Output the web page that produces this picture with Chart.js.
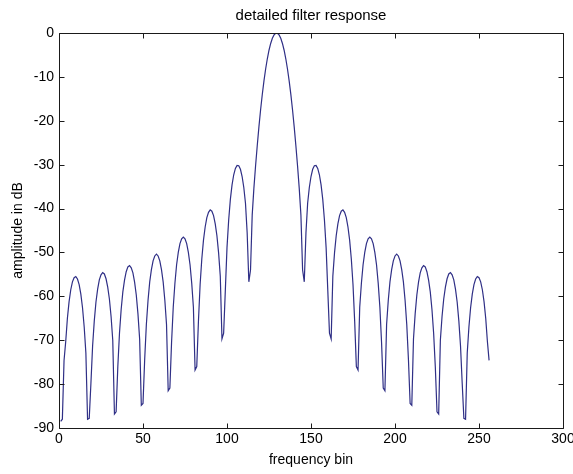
<!DOCTYPE html>
<html><head><meta charset="utf-8">
<script src="https://cdn.jsdelivr.net/npm/chart.js@4.4.1/dist/chart.umd.min.js"></script>
<style>html,body{margin:0;padding:0;background:#fff;}canvas{display:block;}</style>
</head><body>
<canvas id="c" width="573" height="474"></canvas>
<script>
const titleText = 'detailed filter response';
const xTitle = 'frequency bin';
const yTitle = 'amplitude in dB';
const firstBin = 1;
const xTicks = [0, 50, 100, 150, 200, 250, 300];
const yTicks = [0, -10, -20, -30, -40, -50, -60, -70, -80, -90];
// amplitude (dB), bins 1..256
const amplitudeDb = [
 -88.5,-88.0,-74.6,-70.3,-65.0,-61.2,-58.5,-56.7,-55.75,-55.5,
 -56.05,-57.35,-59.5,-62.6,-67.0,-72.9,-88.0,-87.8,-79.8,-71.3,
 -65.6,-61.3,-58.35,-56.25,-55.1,-54.6,-54.9,-56.0,-57.9,-60.6,
 -64.6,-70.0,-86.8,-86.3,-76.1,-68.4,-63.0,-59.0,-56.3,-54.4,
 -53.3,-53.0,-53.5,-54.65,-56.75,-59.7,-64.0,-69.7,-84.8,-84.4,
 -74.4,-66.4,-60.9,-56.7,-53.9,-51.9,-50.8,-50.4,-50.8,-51.9,
 -53.9,-56.7,-60.9,-66.4,-81.5,-80.9,-70.5,-62.5,-57.0,-52.8,
 -50.0,-48.0,-46.9,-46.5,-46.9,-48.0,-50.0,-52.8,-57.0,-62.5,
 -76.8,-76.0,-65.7,-57.3,-51.5,-47.2,-44.2,-42.05,-40.85,-40.3,
 -40.6,-41.6,-43.5,-46.2,-50.1,-55.4,-69.7,-68.4,-58.7,-48.9,
 -42.6,-37.9,-34.6,-32.3,-30.86,-30.17,-30.24,-31.05,-32.7,-35.2,
 -38.8,-45.5,-56.7,-54.0,-41.5,-35.4,-30.3,-25.7,-21.4,-17.5,
 -14.0,-10.9,-8.2,-5.87,-3.93,-2.38,-1.21,-0.44,-0.05,-0.05,
 -0.44,-1.21,-2.38,-3.93,-5.87,-8.2,-10.9,-14.0,-17.5,-21.4,
 -25.7,-30.3,-35.4,-41.5,-54.0,-56.7,-45.5,-38.8,-35.2,-32.7,
 -31.05,-30.24,-30.17,-30.86,-32.3,-34.6,-37.9,-42.6,-48.9,-58.7,
 -68.4,-69.7,-55.4,-50.1,-46.2,-43.5,-41.6,-40.6,-40.3,-40.85,
 -42.05,-44.2,-47.2,-51.5,-57.3,-65.7,-76.0,-76.8,-62.5,-57.0,
 -52.8,-50.0,-48.0,-46.9,-46.5,-46.9,-48.0,-50.0,-52.8,-57.0,
 -62.5,-70.5,-80.9,-81.5,-66.4,-60.9,-56.7,-53.9,-51.9,-50.8,
 -50.4,-50.8,-51.9,-53.9,-56.7,-60.9,-66.4,-74.4,-84.4,-84.8,
 -69.7,-64.0,-59.7,-56.75,-54.65,-53.5,-53.0,-53.3,-54.4,-56.3,
 -59.0,-63.0,-68.4,-76.1,-86.3,-86.8,-70.0,-64.6,-60.6,-57.9,
 -56.0,-54.9,-54.6,-55.1,-56.25,-58.35,-61.3,-65.6,-71.3,-79.8,
 -87.8,-88.0,-72.9,-67.0,-62.6,-59.5,-57.35,-56.05,-55.5,-55.75,
 -56.7,-58.5,-61.2,-65.0,-70.3,-74.6
];

const FONT = "'Liberation Sans', Arial, sans-serif";
const points = amplitudeDb.map((v, i) => ({x: firstBin + i, y: v}));

const boxTicks = {
  id: 'boxTicks',
  afterDraw(chart) {
    const {ctx, chartArea: a, scales: {x, y}} = chart;
    ctx.save();
    ctx.strokeStyle = '#1a1a1a';
    ctx.lineWidth = 1;
    const L = Math.round(a.left) + 0.5, R = Math.round(a.right) + 0.5;
    const T = Math.round(a.top) + 0.5, B = Math.round(a.bottom) + 0.5;
    ctx.beginPath();
    ctx.rect(L, T, R - L, B - T);
    const len = 5;
    xTicks.forEach(v => {
      const p = Math.round(x.getPixelForValue(v)) + 0.5;
      ctx.moveTo(p, B); ctx.lineTo(p, B - len);
      ctx.moveTo(p, T); ctx.lineTo(p, T + len);
    });
    yTicks.forEach(v => {
      const p = Math.round(y.getPixelForValue(v)) + 0.5;
      ctx.moveTo(L, p); ctx.lineTo(L + len, p);
      ctx.moveTo(R, p); ctx.lineTo(R - len, p);
    });
    ctx.stroke();
    ctx.restore();
  }
};

new Chart(document.getElementById('c'), {
  type: 'line',
  data: {
    datasets: [{
      data: points,
      borderColor: '#2f2f86',
      borderWidth: 1.2,
      pointRadius: 0,
      tension: 0,
      fill: false
    }]
  },
  options: {
    responsive: false,
    animation: false,
    layout: {padding: {top: 0, right: 10, bottom: 0, left: 0}},
    plugins: {
      legend: {display: false},
      tooltip: {enabled: false},
      title: {
        display: true,
        text: titleText,
        fullSize: false,
        color: '#000',
        font: {family: FONT, size: 15, weight: 'normal'},
        padding: {top: 7, bottom: 8}
      }
    },
    scales: {
      x: {
        type: 'linear',
        min: 0, max: 300,
        grid: {display: false, drawTicks: false},
        border: {display: false},
        afterBuildTicks: s => { s.ticks = xTicks.map(v => ({value: v})); },
        ticks: {color: '#000', font: {family: FONT, size: 14}, padding: 3, maxRotation: 0, autoSkip: false},
        title: {display: true, text: xTitle, color: '#000', font: {family: FONT, size: 14}, padding: {top: 0, bottom: 5.6}},
        afterFit: s => { s.height = 46; s.paddingLeft = 0; s.paddingRight = 0; }
      },
      y: {
        type: 'linear',
        min: -90, max: 0,
        grid: {display: false, drawTicks: false},
        border: {display: false},
        afterBuildTicks: s => { s.ticks = yTicks.map(v => ({value: v})); },
        ticks: {color: '#000', font: {family: FONT, size: 14}, padding: 5, autoSkip: false},
        title: {display: true, text: yTitle, color: '#000', font: {family: FONT, size: 14}, padding: {top: 9.6, bottom: 0}},
        afterFit: s => { s.width = 59; s.paddingTop = 0; s.paddingBottom = 0; }
      }
    }
  },
  plugins: [boxTicks]
});
</script>
</body></html>
